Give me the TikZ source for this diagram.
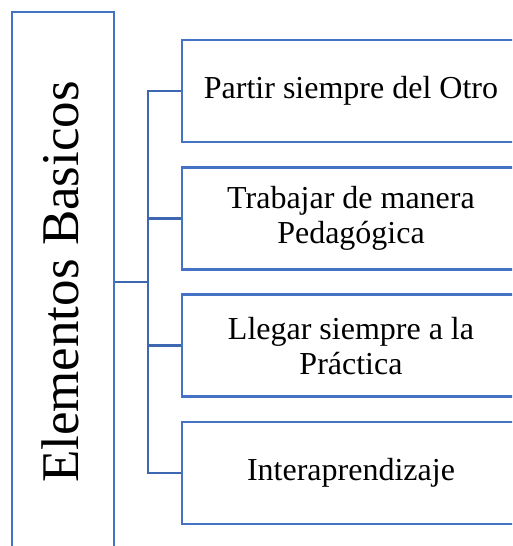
\documentclass[tikz,border=0pt]{standalone}
\usepackage{fontspec}
\setmainfont{Liberation Serif}
\usetikzlibrary{positioning}
\definecolor{boxblue}{RGB}{68,114,196}
\begin{document}
\begin{tikzpicture}[x=1pt,y=-1pt,node distance=22.8pt,
box/.style={draw=boxblue, line width=2.5pt},
item/.style={box, minimum width=338pt, minimum height=102pt,
    align=center, font=\fontsize{32}{35}\selectfont},
conn/.style={draw=boxblue!90!black, line width=2.5pt}]
\useasboundingbox (0,0) rectangle (512,546);
\clip (0,0) rectangle (512,546);
\node[box, rotate=90, minimum width=540pt, minimum height=102pt,
  text height=36pt, text depth=6pt,
  font=\fontsize{53}{60}\selectfont] (elem) at (63,282) {Elementos Basicos};
\node[item] (item1) at (351,91) {Partir siempre del Otro};
\node[item, below=of item1] (item2) {Trabajar de manera\\Pedagógica};
\node[item, below=of item2] (item3) {Llegar siempre a la\\Práctica};
\node[item, below=of item3] (item4) {Interaprendizaje};
\coordinate (spine) at (148,282);
\draw[conn] (elem) -- (spine);
\foreach \i in {1,...,4}
  \draw[conn] (spine) |- (item\i.west);
\end{tikzpicture}
\end{document}
